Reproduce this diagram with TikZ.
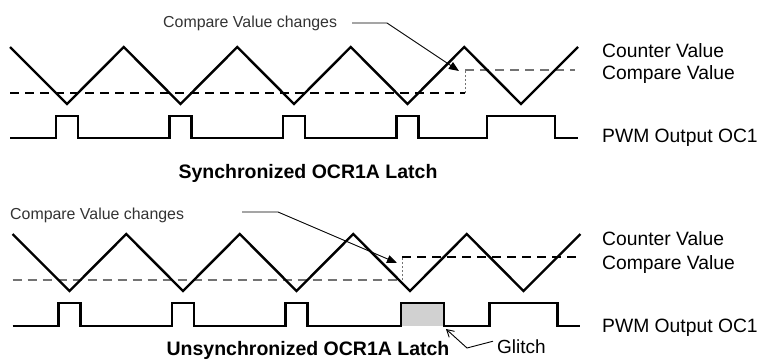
\documentclass[tikz,border=0pt]{standalone}
\usepackage{fontspec}
\setmainfont{Liberation Sans}
\usetikzlibrary{arrows.meta}
\tikzset{
  wave/.style={line width=2.4pt, line join=miter, line cap=butt},
  cmpline/.style={line width=1.5pt, dash pattern=on 9pt off 6pt},
  cmpgray/.style={cmpline, draw=black!55},
  stepdot/.style={line width=0.9pt, draw=black!55, dash pattern=on 2pt off 2pt},
  leader/.style={line width=0.9pt},
  lbl/.style={anchor=base west, inner sep=0pt, font=\fontsize{19.3}{21}\selectfont},
  small/.style={anchor=base west, inner sep=0pt, text=black!80, font=\fontsize{15.9}{17}\selectfont},
  ttl/.style={anchor=base, inner sep=0pt, font=\fontsize{19.5}{21}\selectfont\bfseries},
}
\begin{document}
\begin{tikzpicture}[x=1pt,y=-1pt]
\useasboundingbox (0,0) rectangle (758,360);
% ================= TOP =================
\draw[cmpline] (10,93) -- (465,93);
\draw[stepdot] (465,93) -- (465,70);
\draw[cmpgray] (465,70) -- (575,70);
\draw[wave] (10,47) -- (67,104) -- (123.75,47) -- (180.5,104) -- (237.25,47) -- (294,104)
  -- (350.75,47) -- (407.5,104) -- (464.25,47) -- (521,104) -- (578,47);
\draw[wave] (10,138) -- (56,138) -- (56,116) -- (78,116) -- (78,138)
  -- (169.5,138) -- (169.5,116) -- (191.5,116) -- (191.5,138)
  -- (283,138) -- (283,116) -- (305,116) -- (305,138)
  -- (396.5,138) -- (396.5,116) -- (418.5,116) -- (418.5,138)
  -- (487,138) -- (487,116) -- (555,116) -- (555,138) -- (578,138);
\node[small] (chgTop) at (163,27) {Compare Value changes};
\coordinate (lTopA) at (352,23);
\coordinate (lTopB) at (387,23);
\coordinate (tipTop) at (459,71);
\draw[leader, -{Triangle[length=10pt,width=8pt]}] (lTopA) -- (lTopB) -- (tipTop);
\node[lbl] (cntTop) at (602,57) {Counter Value};
\node[lbl] (cmpTop) at (602,79) {Compare Value};
\node[lbl] (pwmTop) at (602,142) {PWM Output OC1};
\node[ttl] (ttlTop) at (308,178) {Synchronized OCR1A Latch};
% ================= BOTTOM =================
\fill[black!18] (401,303) rectangle (444,326);
\draw[cmpgray] (12.5,280) -- (402,280);
\draw[stepdot] (402,280) -- (402,257);
\draw[cmpline] (402,257) -- (577,257);
\draw[wave] (12.5,234) -- (69.5,291) -- (126.25,234) -- (183,291) -- (239.75,234) -- (296.5,291)
  -- (353.25,234) -- (410,291) -- (466.75,234) -- (523.5,291) -- (580.5,234);
\draw[wave] (12.5,326) -- (58.5,326) -- (58.5,303) -- (80.5,303) -- (80.5,326)
  -- (172,326) -- (172,303) -- (194,303) -- (194,326)
  -- (285.5,326) -- (285.5,303) -- (307.5,303) -- (307.5,326)
  -- (401,326) -- (401,303) -- (444,303) -- (444,326)
  -- (489.5,326) -- (489.5,303) -- (557.5,303) -- (557.5,326) -- (580,326);
\node[small] (chgBot) at (10,219) {Compare Value changes};
\coordinate (lBotA) at (242,212);
\coordinate (lBotB) at (278,212);
\coordinate (tipBot) at (397,263);
\draw[leader, -{Triangle[length=10pt,width=8pt]}] (lBotA) -- (lBotB) -- (tipBot);
\node[lbl] (cntBot) at (602,245) {Counter Value};
\node[lbl] (cmpBot) at (602,269) {Compare Value};
\node[lbl] (pwmBot) at (602,332) {PWM Output OC1};
\node[ttl] (ttlBot) at (308,355) {Unsynchronized OCR1A Latch};
\node[lbl, font=\fontsize{19}{20}\selectfont] (glitch) at (497,353) {Glitch};
\coordinate (gA) at (467,348);
\coordinate (gTip) at (446,329);
\draw[leader, -{Straight Barb[length=7pt,width=8pt]}] ([xshift=-4pt,yshift=5pt]glitch.west) -- (gA) -- (gTip);
\end{tikzpicture}
\end{document}
